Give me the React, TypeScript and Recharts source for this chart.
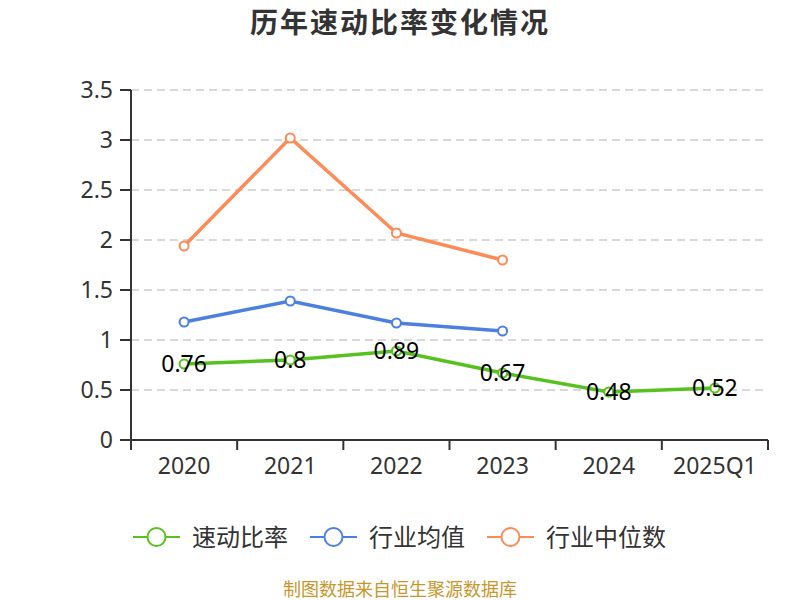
import React from 'react';
import { LineChart, Line, XAxis, YAxis, CartesianGrid, LabelList } from 'recharts';

const categories = ['2020', '2021', '2022', '2023', '2024', '2025Q1'];
const quickRatio = [0.76, 0.8, 0.89, 0.67, 0.48, 0.52];
const industryAvg: (number | null)[] = [1.18, 1.39, 1.17, 1.09, null, null];
const industryMedian: (number | null)[] = [1.94, 3.02, 2.07, 1.8, null, null];
const yTicks = [0, 0.5, 1, 1.5, 2, 2.5, 3, 3.5];

const seriesNames = ['速动比率', '行业均值', '行业中位数'];
const colors = ['#57c21f', '#4b80e0', '#fd8b57'];

const data = categories.map((c, i) => ({
  name: c,
  quick: quickRatio[i],
  avg: industryAvg[i],
  median: industryMedian[i],
}));

const FONT = "'Noto Sans', 'Noto Sans CJK SC', sans-serif";

const XTick = (props: any) => {
  const { x, y, payload, index, visibleTicksCount } = props;
  const half = payload && payload.offset ? payload.offset : 0;
  const axisY = y - 10;
  const count = visibleTicksCount ?? categories.length;
  const isLast = index === count - 1 || payload.value === categories[categories.length - 1];
  return (
    <g>
      <line x1={x - half} x2={x - half} y1={axisY} y2={axisY + 10} stroke="#333" strokeWidth={2} />
      {isLast && (
        <line x1={x + half} x2={x + half} y1={axisY} y2={axisY + 10} stroke="#333" strokeWidth={2} />
      )}
      <text x={x} y={y + 24} textAnchor="middle" fill="#333" fontSize={23} fontFamily={FONT}>
        {payload.value}
      </text>
    </g>
  );
};

const LegendItem = ({ name, color }: { name: string; color: string }) => (
  <div style={{ display: 'flex', alignItems: 'center', marginRight: 22 }}>
    <svg width={47} height={22} style={{ display: 'block' }}>
      <line x1={0} x2={47} y1={11} y2={11} stroke={color} strokeWidth={2} />
      <circle cx={23.5} cy={11} r={9} fill="#fff" stroke={color} strokeWidth={2} />
    </svg>
    <span style={{ marginLeft: 12, fontSize: 24, lineHeight: '30px', color: '#333', fontFamily: FONT }}>{name}</span>
  </div>
);

export default function App() {
  return (
    <div style={{ position: 'absolute', left: 0, top: 0, width: 800, height: 600, background: '#fff', fontFamily: FONT, overflow: 'hidden' }}>
      <div style={{ position: 'absolute', top: 2, left: 0, width: 800, lineHeight: '40px', textAlign: 'center', fontSize: 28, fontWeight: 'bold', letterSpacing: 2, color: '#333' }}>
        历年速动比率变化情况
      </div>
      <LineChart width={800} height={600} data={data} margin={{ top: 90, right: 32, left: 0, bottom: 120 }}>
        <CartesianGrid vertical={false} stroke="#ccc" strokeDasharray="8 5" strokeWidth={1.5} />
        <XAxis
          dataKey="name"
          scale="band"
          axisLine={{ stroke: '#333', strokeWidth: 2 }}
          tickLine={{ stroke: 'transparent' }}
          tickSize={10}
          tickMargin={0}
          tick={<XTick />}
          interval={0}
          height={40}
        />
        <YAxis
          domain={[0, 3.5]}
          ticks={yTicks}
          width={131}
          axisLine={{ stroke: '#333', strokeWidth: 2 }}
          tickLine={{ stroke: '#333', strokeWidth: 2 }}
          tickSize={11}
          tickMargin={7}
          tick={{ fill: '#333', fontSize: 23, fontFamily: FONT }}
          interval={0}
        />
        <Line
          dataKey="median"
          stroke={colors[2]}
          strokeWidth={3.5}
          dot={{ r: 4.5, fill: '#fff', stroke: colors[2], strokeWidth: 2 }}
          isAnimationActive={false}
          connectNulls={false}
        />
        <Line
          dataKey="avg"
          stroke={colors[1]}
          strokeWidth={3.5}
          dot={{ r: 4.5, fill: '#fff', stroke: colors[1], strokeWidth: 2 }}
          isAnimationActive={false}
          connectNulls={false}
        />
        <Line
          dataKey="quick"
          stroke={colors[0]}
          strokeWidth={3.5}
          dot={{ r: 4.5, fill: '#fff', stroke: colors[0], strokeWidth: 2 }}
          isAnimationActive={false}
        >
          <LabelList dataKey="quick" position="center" fill="#000" fontSize={23} fontFamily={FONT} />
        </Line>
      </LineChart>
      <div style={{ position: 'absolute', top: 522, left: 133, display: 'flex', alignItems: 'center' }}>
        {seriesNames.map((n, i) => (
          <LegendItem key={n} name={n} color={colors[i]} />
        ))}
      </div>
      <div style={{ position: 'absolute', top: 578, left: 0, width: 800, lineHeight: '22px', textAlign: 'center', fontSize: 18, color: '#c8962c' }}>
        制图数据来自恒生聚源数据库
      </div>
    </div>
  );
}
